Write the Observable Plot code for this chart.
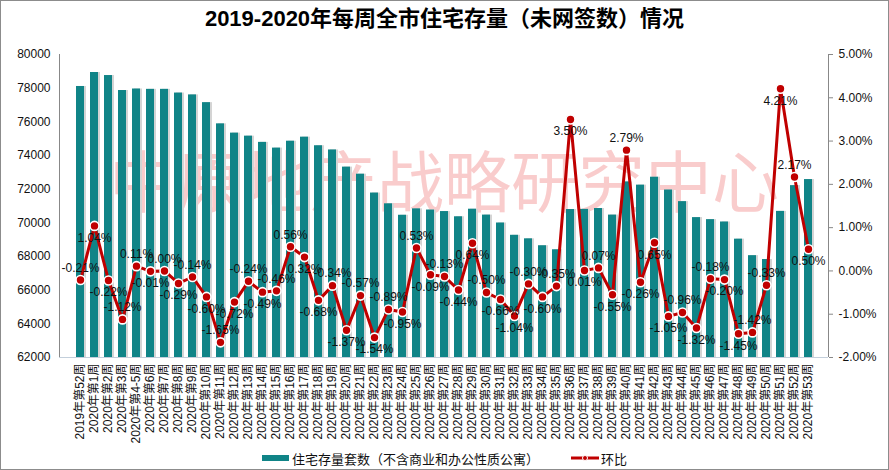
<!DOCTYPE html>
<html>
<head>
<meta charset="utf-8">
<script src="https://cdn.jsdelivr.net/npm/d3@7"></script>
<script src="https://cdn.jsdelivr.net/npm/@observablehq/plot@0.6"></script>
<style>
  html, body { margin: 0; padding: 0; background: #fff; }
  #wrap { position: relative; width: 889px; height: 470px; overflow: hidden; font-family: "Liberation Sans", Arial, "Noto Sans CJK SC", sans-serif; }
  #title { height: 36px; line-height: 38px; text-align: center; font-size: 22px; font-weight: bold; color: #000; font-family: "Liberation Sans", Arial, "Noto Sans CJK SC", sans-serif; }
  #legend { height: 24px; display: flex; justify-content: center; align-items: center; font-size: 13px; color: #111; font-family: "Noto Sans CJK SC", sans-serif; }
  .sw { display: inline-block; }
  #border { position: absolute; left: 0; top: 0; width: 889px; height: 470px; box-sizing: border-box; border: 1px solid #8c8c8c; pointer-events: none; }
</style>
</head>
<body>
<div id="wrap">
  <div id="title">2019-2020年每周全市住宅存量（未网签数）情况</div>
  <div id="chart"></div>
  <div id="legend"></div>
  <div id="border"></div>
</div>
<script>
// ---- data ----
const weeks = [
  "2019年第52周","2020年第1周","2020年第2周","2020年第3周","2020年第4-5周",
  "2020年第6周","2020年第7周","2020年第8周","2020年第9周","2020年第10周",
  "2020年第11周","2020年第12周","2020年第13周","2020年第14周","2020年第15周",
  "2020年第16周","2020年第17周","2020年第18周","2020年第19周","2020年第20周",
  "2020年第21周","2020年第22周","2020年第23周","2020年第24周","2020年第25周",
  "2020年第26周","2020年第27周","2020年第28周","2020年第29周","2020年第30周",
  "2020年第31周","2020年第32周","2020年第33周","2020年第34周","2020年第35周",
  "2020年第36周","2020年第37周","2020年第38周","2020年第39周","2020年第40周",
  "2020年第41周","2020年第42周","2020年第43周","2020年第44周","2020年第45周",
  "2020年第46周","2020年第47周","2020年第48周","2020年第49周","2020年第50周",
  "2020年第51周","2020年第52周","2020年第53周"
];
const stock = [
  78100,78930,78750,77860,77950,77930,77930,77710,77600,77140,
  75880,75330,75150,74780,74440,74850,75090,74580,74330,73310,
  72890,71770,71130,70450,70830,70760,70670,70360,70810,70460,
  69990,69260,69050,68640,68400,70790,70800,70850,70460,72430,
  72240,72710,71950,71260,70310,70190,70050,69030,68050,67820,
  70680,72210,72570
];
const pct = [
  -0.21,1.04,-0.22,-1.12,0.11,-0.01,0.00,-0.29,-0.14,-0.60,
  -1.65,-0.72,-0.24,-0.49,-0.46,0.56,0.32,-0.68,-0.34,-1.37,
  -0.57,-1.54,-0.89,-0.95,0.53,-0.09,-0.13,-0.44,0.64,-0.50,
  -0.66,-1.04,-0.30,-0.60,-0.35,3.50,0.01,0.07,-0.55,2.79,
  -0.26,0.65,-1.05,-0.96,-1.32,-0.18,-0.20,-1.45,-1.42,-0.33,
  4.21,2.17,0.50
];
const leftTicks = [62000,64000,66000,68000,70000,72000,74000,76000,78000,80000];
const rightTicks = [-2,-1,0,1,2,3,4,5];
const seriesNames = ["住宅存量套数（不含商业和办公性质公寓）","环比"];
const watermark = "中原地产战略研究中心";

// ---- style config ----
const labelSide = "ABBAABABAB" + "ABABAABBAB" + "ABABABABBA" + "BBABABBABA" + "BBBABABBAA" + "BAB";
const teal = "#108487";
const red = "#c00000";
const leftDomain = [62000, 80000];
const rightDomain = [-2, 5];
const toLeft = p => leftDomain[0] + (p - rightDomain[0]) / (rightDomain[1] - rightDomain[0]) * (leftDomain[1] - leftDomain[0]);
const fromLeft = v => {
  const p = Math.round(((v - leftDomain[0]) / (leftDomain[1] - leftDomain[0]) * (rightDomain[1] - rightDomain[0]) + rightDomain[0]) * 100) / 100;
  return (p === 0 ? 0 : p).toFixed(2) + "%";
};

const rows = weeks.map((w, i) => ({week: w, stock: stock[i], pct: pct[i], side: labelSide[i]}));
const fmt = d => (d.pct === 0 ? 0 : d.pct).toFixed(2) + "%";

const W = 889, H = 410, mT = 18, mB = 89, mL = 59, mR = 61;

const plot = Plot.plot({
  width: W, height: H,
  marginTop: mT, marginBottom: mB, marginLeft: mL, marginRight: mR,
  style: {fontFamily: "\"Liberation Sans\", Arial, \"Noto Sans CJK SC\", sans-serif", fontSize: "12px", color: "#111", background: "transparent"},
  x: {type: "band", domain: weeks, paddingInner: 0.45, paddingOuter: 0.225},
  y: {domain: leftDomain},
  marks: [
    Plot.text([watermark], {frameAnchor: "middle", dy: -20, fontSize: 67, fill: "#f9cccc", fontFamily: "\"Noto Sans CJK SC\", sans-serif", fontWeight: "normal"}),
    Plot.barY(rows, {x: "week", y1: leftDomain[0], y2: "stock", fill: "#d4d4d4", dx: 2}),
    Plot.barY(rows, {x: "week", y1: leftDomain[0], y2: "stock", fill: teal}),
    Plot.ruleY([leftDomain[0]], {stroke: "#c3cfdb", strokeWidth: 1}),
    Plot.axisY(leftTicks, {anchor: "left", tickSize: 0, tickPadding: 9, label: null, fontSize: 12, tickFormat: d => String(d)}),
    Plot.axisY(rightTicks.map(toLeft), {anchor: "right", tickSize: 4, tickPadding: 6, label: null, fontSize: 12, stroke: "#888", tickFormat: fromLeft}),
    Plot.axisX({anchor: "bottom", tickRotate: -90, tickSize: 0, tickPadding: 6, label: null, fontSize: 12}),
    Plot.line(rows, {x: "week", y: d => toLeft(d.pct), stroke: red, strokeWidth: 3}),
    Plot.dot(rows, {x: "week", y: d => toLeft(d.pct), r: 4.5, fill: red, stroke: "white", strokeWidth: 1.6}),
    Plot.text(rows.filter(d => d.side === "A"), {x: "week", y: d => toLeft(d.pct), text: fmt, dy: -12, fontSize: 12, fill: "#111"}),
    Plot.text(rows.filter(d => d.side === "B"), {x: "week", y: d => toLeft(d.pct), text: fmt, dy: 12, fontSize: 12, fill: "#111"})
  ]
});
document.getElementById("chart").appendChild(plot);

// axis lines
const svg = d3.select(plot);
svg.append("line").attr("x1", mL + 0.5).attr("x2", mL + 0.5).attr("y1", mT).attr("y2", H - mB).attr("stroke", "#888");
svg.append("line").attr("x1", W - mR + 0.5).attr("x2", W - mR + 0.5).attr("y1", mT).attr("y2", H - mB).attr("stroke", "#888");

// legend
const lg = document.getElementById("legend");
lg.innerHTML =
  `<span class="sw" style="width:27px;height:6px;background:${teal};margin-right:3px"></span>` +
  `<span>${seriesNames[0]}</span>` +
  `<span style="display:inline-block;width:32px"></span>` +
  `<svg width="28" height="10" style="margin-right:2px"><line x1="0" x2="28" y1="5" y2="5" stroke="${red}" stroke-width="3"/><circle cx="14" cy="5" r="2.5" fill="${red}" stroke="white" stroke-width="1"/></svg>` +
  `<span>${seriesNames[1]}</span>`;
</script>
</body>
</html>
